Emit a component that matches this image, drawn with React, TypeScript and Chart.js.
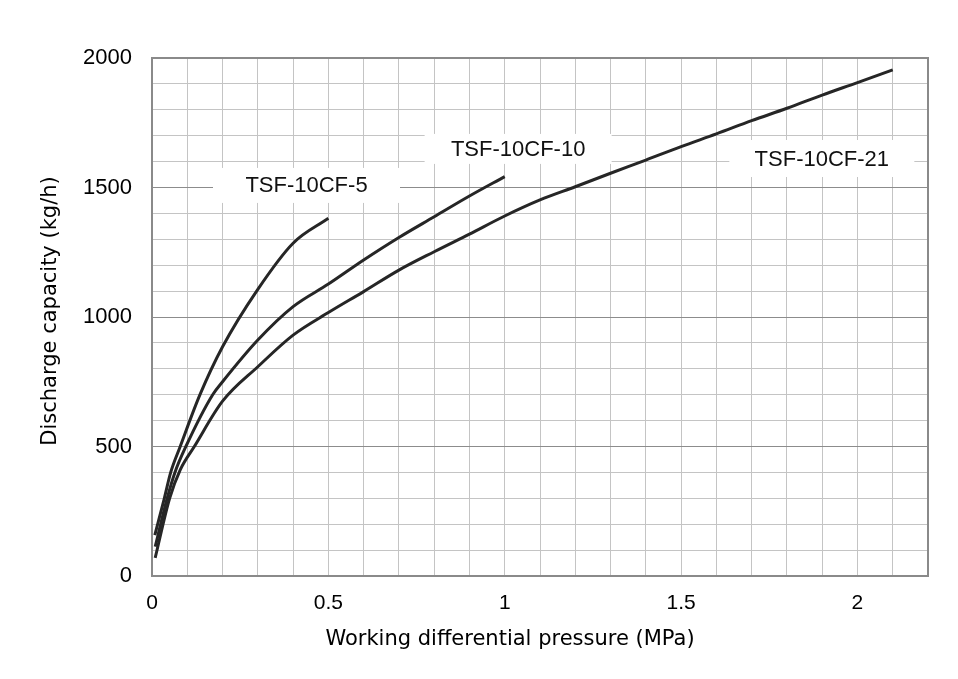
import React, { useEffect, useRef } from "react";
import { Chart, registerables } from "chart.js";

Chart.register(...registerables);

// ---- Data ----
const seriesNames = ["TSF-10CF-5", "TSF-10CF-10", "TSF-10CF-21"];

const x5 = [0.008, 0.035, 0.053, 0.08, 0.136, 0.2, 0.3, 0.4, 0.5];
const y5 = [158, 300, 400, 500, 700, 885, 1107, 1285, 1381];

const x10 = [0.009, 0.043, 0.065, 0.096, 0.172, 0.2, 0.3, 0.4, 0.5, 0.6, 0.7, 0.8, 0.9, 1.0];
const y10 = [113, 300, 400, 500, 700, 750, 911, 1040, 1127, 1220, 1307, 1387, 1467, 1542];

const x21 = [0.009, 0.05, 0.08, 0.12, 0.2, 0.3, 0.4, 0.5, 0.6, 0.7, 0.8, 0.9, 1.0, 1.1, 1.2, 1.3, 1.4, 1.5, 1.6, 1.7, 1.8, 1.9, 2.0, 2.1];
const y21 = [70, 300, 410, 500, 675, 808, 930, 1017, 1098, 1181, 1252, 1320, 1390, 1452, 1503, 1555, 1606, 1658, 1707, 1758, 1806, 1857, 1905, 1954];

const xTickValues = [0, 0.5, 1, 1.5, 2];
const xTickLabels = ["0", "0.5", "1", "1.5", "2"];
const yTickValues = [0, 500, 1000, 1500, 2000];
const yTickLabels = ["0", "500", "1000", "1500", "2000"];

// label anchors (data coordinates)
const labelX = [0.438, 1.038, 1.899];
const labelY = [1508, 1649, 1612];

const xTitle = "Working differential pressure (MPa)";
const yTitle = "Discharge capacity (kg/h)";

// ---- Styles ----
const LINE_COLOR = "#262626";
const MINOR_GRID = "#c4c4c4";
const MAJOR_GRID = "#8c8c8c";
const BORDER = "#8a8a8a";
const TICK_FONT = "'Liberation Sans', Arial, sans-serif";
const TITLE_FONT = "'DejaVu Sans', sans-serif";

const toPoints = (xs: number[], ys: number[]) => xs.map((x, i) => ({ x, y: ys[i] }));

const near = (a: number, b: number) => Math.abs(a - b) < 1e-6;

const labelBoxes = [
  { w: 187, h: 35 },
  { w: 187, h: 30 },
  { w: 185, h: 37 },
];

const labelPlugin = {
  id: "seriesLabels",
  beforeDatasetsDraw(chart: any) {
    const { ctx, chartArea, scales } = chart;
    ctx.save();
    seriesNames.forEach((name, i) => {
      const cx = scales.x.getPixelForValue(labelX[i]);
      const cy = scales.y.getPixelForValue(labelY[i]);
      const b = labelBoxes[i];
      ctx.fillStyle = "#ffffff";
      ctx.fillRect(cx - b.w / 2, cy - b.h / 2, b.w, b.h);
      ctx.fillStyle = "#111111";
      ctx.font = `22px ${TICK_FONT}`;
      ctx.textAlign = "center";
      ctx.textBaseline = "middle";
      ctx.fillText(name, cx, cy + 1);
    });
    ctx.strokeStyle = BORDER;
    ctx.lineWidth = 2;
    ctx.strokeRect(chartArea.left, chartArea.top, chartArea.right - chartArea.left, chartArea.bottom - chartArea.top);
    ctx.restore();
  },
  afterDraw(chart: any) {
    const { ctx, chartArea } = chart;
    ctx.save();
    ctx.fillStyle = "#000";
    ctx.font = `21px ${TITLE_FONT}`;
    ctx.textAlign = "center";
    ctx.textBaseline = "middle";
    const midX = (chartArea.left + chartArea.right) / 2;
    ctx.fillText(xTitle, midX - 30, chartArea.bottom + 64);
    ctx.translate(51, (chartArea.top + chartArea.bottom) / 2 - 6);
    ctx.rotate(-Math.PI / 2);
    ctx.fillText(yTitle, 0, 0);
    ctx.restore();
  },
};

export default function App() {
  const ref = useRef<HTMLCanvasElement | null>(null);

  useEffect(() => {
    if (!ref.current) return;
    const mk = (xs: number[], ys: number[], label: string) => ({
      label,
      data: toPoints(xs, ys),
      borderColor: LINE_COLOR,
      backgroundColor: LINE_COLOR,
      borderWidth: 3,
      pointRadius: 0,
      cubicInterpolationMode: "monotone" as const,
      fill: false,
    });
    const chart = new Chart(ref.current, {
      type: "line",
      data: {
        datasets: [mk(x5, y5, seriesNames[0]), mk(x10, y10, seriesNames[1]), mk(x21, y21, seriesNames[2])],
      },
      options: {
        animation: false,
        responsive: false,
        maintainAspectRatio: false,
        layout: { padding: { top: 58, right: 30, left: 0, bottom: 0 } },
        plugins: { legend: { display: false }, tooltip: { enabled: false } },
        scales: {
          x: {
            type: "linear",
            min: 0,
            max: 2.2,
            afterFit: (s: any) => {
              s.height = 103;
            },
            ticks: {
              stepSize: 0.1,
              autoSkip: false,
              maxRotation: 0,
              padding: 15,
              color: "#000",
              font: { family: TICK_FONT, size: 21 },
              callback: (v: any) => {
                const idx = xTickValues.findIndex((t) => near(t, Number(v)));
                return idx >= 0 ? xTickLabels[idx] : "";
              },
            },
            grid: { color: MINOR_GRID, lineWidth: 1, drawTicks: false },
            border: { display: false },
            title: { display: false },
          },
          y: {
            type: "linear",
            min: 0,
            max: 2000,
            afterFit: (s: any) => {
              s.width = 152;
            },
            ticks: {
              stepSize: 100,
              autoSkip: false,
              padding: 20,
              color: "#000",
              font: { family: TICK_FONT, size: 22 },
              callback: (v: any) => {
                const idx = yTickValues.findIndex((t) => near(t, Number(v)));
                return idx >= 0 ? yTickLabels[idx] : "";
              },
            },
            grid: {
              drawTicks: false,
              lineWidth: 1,
              color: (c: any) => {
                const v = c.tick ? c.tick.value : 0;
                return yTickValues.some((t) => near(t, v)) ? MAJOR_GRID : MINOR_GRID;
              },
            },
            border: { display: false },
            title: { display: false },
          },
        },
      },
      plugins: [labelPlugin],
    });
    return () => chart.destroy();
  }, []);

  return (
    <div style={{ position: "fixed", left: 0, top: 0, width: 958, height: 679, background: "#fff" }}>
      <canvas ref={ref} width={958} height={679} style={{ width: 958, height: 679, display: "block" }} />
    </div>
  );
}
